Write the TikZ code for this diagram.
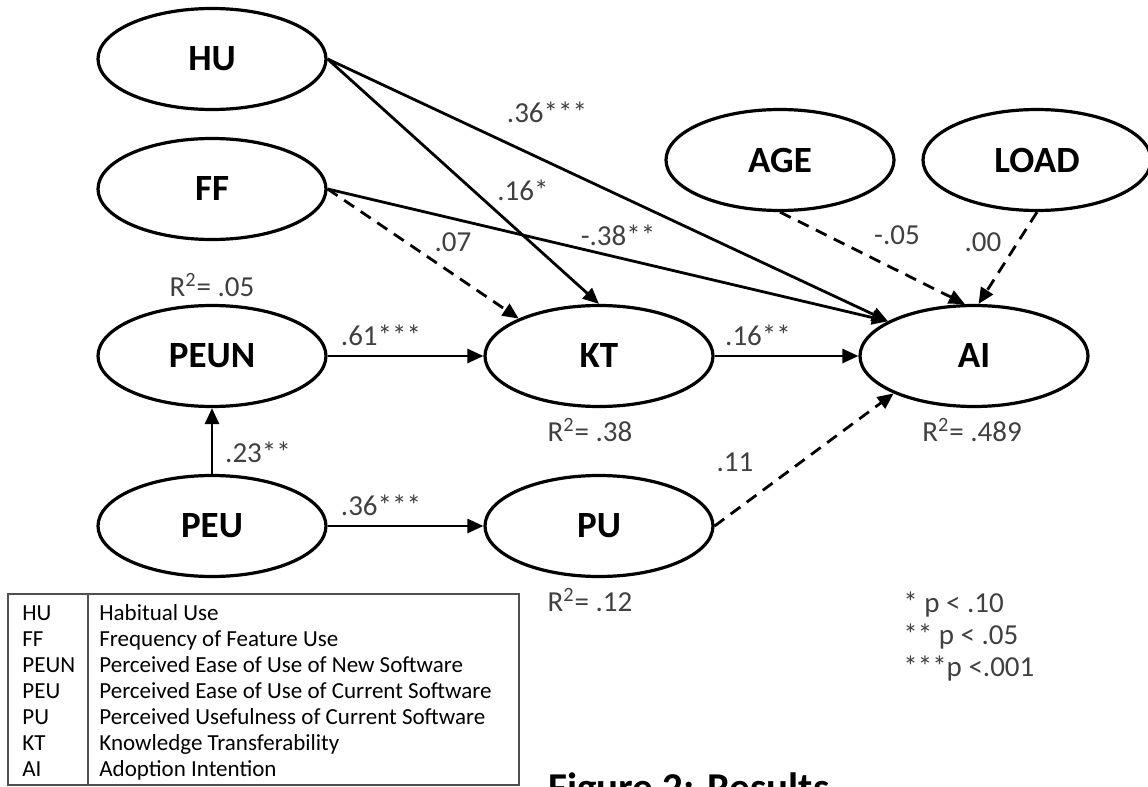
\documentclass[tikz,border=0pt]{standalone}
\usepackage{fontspec}
\setmainfont{Carlito}
\usepackage{tikz}
\usetikzlibrary{arrows.meta, shapes.geometric}
\definecolor{my_darkgray}{HTML}{404040}
\definecolor{my_framegray}{HTML}{505050}

\begin{document}
\begin{tikzpicture}[
    x=0.5pt, y=-0.5pt,
    latent/.style={ellipse, draw, line width=1.6pt, inner sep=0pt,
        minimum width=114pt, minimum height=50.5pt,
        font=\fontsize{18.5}{22}\selectfont\bfseries},
    path_solid/.style={line width=1.4pt, -{Triangle[length=8pt, width=7pt]}},
    path_dashed/.style={path_solid, dash pattern=on 6pt off 4pt},
    coef/.style={font=\fontsize{14.5}{17}\selectfont, text=my_darkgray, inner sep=0pt},
    legend_text/.style={font=\fontsize{11.5}{13}\selectfont, inner sep=0pt, anchor=base west}
]

% ================================================================
% Rahmen
% ================================================================
\clip (0,0) rectangle (1148,787);

% ================================================================
% Konstrukte
% ================================================================
\node[latent] (HU)   at (212,59)   {HU};
\node[latent] (FF)   at (212,189)  {FF};
\node[latent] (PEUN) at (212,356)  {PEUN};
\node[latent] (PEU)  at (212,526)  {PEU};
\node[latent] (KT)   at (599,356)  {KT};
\node[latent] (PU)   at (599,526)  {PU};
\node[latent] (AI)   at (974,356)  {AI};
\node[latent] (AGE)  at (780,160)  {AGE};
\node[latent] (LOAD) at (1037,160) {LOAD};

% ================================================================
% Pfade
% ================================================================
\draw[path_solid]  (HU.east)   -- (AI.158);
\draw[path_solid]  (FF.east)   -- (AI.158);
\draw[path_solid]  (HU.east)   -- (KT.north);
\draw[path_dashed] (FF.east)   -- (KT.155);
\draw[path_solid]  (PEUN)      -- (KT);
\draw[path_solid]  (PEU)       -- (PEUN);
\draw[path_solid]  (PEU)       -- (PU);
\draw[path_solid]  (KT)        -- (AI);
\draw[path_dashed] (PU.east)   -- (AI.205);
\draw[path_dashed] (AGE.south) -- (AI.100);
\draw[path_dashed] (LOAD.south) -- (AI.85);

% Pfadkoeffizienten
\node[coef] (c_hu_ai)   at (547,112) {.36***};
\node[coef] (c_hu_kt)   at (523,190) {.16*};
\node[coef] (c_ff_kt)   at (453,242) {.07};
\node[coef] (c_ff_ai)   at (618,235) {-.38**};
\node[coef] (c_age_ai)  at (897,235) {-.05};
\node[coef] (c_load_ai) at (983,242) {.00};
\node[coef] (c_peun_kt) at (381,335) {.61***};
\node[coef] (c_kt_ai)   at (758,335) {.16**};
\node[coef] (c_peu_peun) at (258,452) {.23**};
\node[coef] (c_pu_ai)   at (735,462) {.11};
\node[coef] (c_peu_pu)  at (381,505) {.36***};

% Bestimmtheitsmasse
\node[coef] (r2_peun) at (212,285) {R\textsuperscript{2}= .05};
\node[coef] (r2_kt)   at (590,430) {R\textsuperscript{2}= .38};
\node[coef] (r2_ai)   at (972,430) {R\textsuperscript{2}= .489};
\node[coef] (r2_pu)   at (590,600) {R\textsuperscript{2}= .12};

% Signifikanzniveaus
\foreach \sig [count=\i] in {* p < .10, ** p < .05, ***p <.001} {
    \node[coef, anchor=base west] (sig\i) at (903, {612+32*(\i-1)}) {\sig};
}

% ================================================================
% Legende
% ================================================================
\draw[my_framegray, line width=0.7pt] (8,594) rectangle (519,785);
\draw[my_framegray, line width=0.7pt] (88,594) -- (88,785);
\foreach \abbr/\desc [count=\i] in {
    HU/Habitual Use,
    FF/Frequency of Feature Use,
    PEUN/Perceived Ease of Use of New Software,
    PEU/Perceived Ease of Use of Current Software,
    PU/Perceived Usefulness of Current Software,
    KT/Knowledge Transferability,
    AI/Adoption Intention} {
    \node[legend_text] (abbr\i) at (22, {620+26*(\i-1)}) {\abbr};
    \node[legend_text] (desc\i) at (99, {620+26*(\i-1)}) {\desc};
}

% Bildunterschrift (unten angeschnitten)
\node[font=\fontsize{20.5}{24}\selectfont\bfseries, inner sep=0pt, anchor=base west]
    (caption) at (548,801) {Figure 2: Results};

\end{tikzpicture}
\end{document}
